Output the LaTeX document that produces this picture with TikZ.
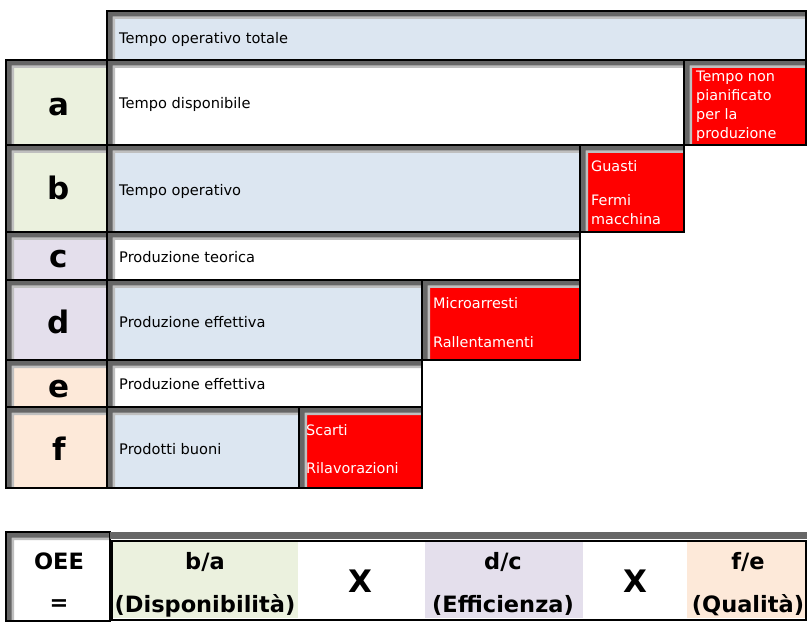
\documentclass[tikz,border=0pt]{standalone}
\usepackage{fontspec}
\setmainfont{DejaVu Sans}

\definecolor{azzurro}{HTML}{DCE6F1}
\definecolor{verde}{HTML}{EBF1DE}
\definecolor{lilla}{HTML}{E4DFEC}
\definecolor{pesca}{HTML}{FDE9D9}
\definecolor{rosso}{HTML}{FF0000}
\definecolor{scuro}{HTML}{666666}
\definecolor{chiaro}{HTML}{BFBFBF}

% cella con bordo "a rilievo": x1 y1 x2 y2 colore
\newcommand{\cella}[5]{%
	\fill[#5] (#1,#2) rectangle (#3,#4);
	\fill[chiaro] (#1,#2) rectangle (#3,{#2+8}) (#1,#2) rectangle ({#1+8},#4);
	\fill[scuro] (#1,#2) rectangle (#3,{#2+5.5}) (#1,#2) rectangle ({#1+5.5},#4);
	\draw[black, line width=2] (#1,#2) rectangle (#3,#4);
}

\tikzset{
	voce/.style={anchor=base west, inner sep=0pt, font=\fontsize{14.6}{17}\selectfont},
	perdita/.style={voce, text=white, align=left, font=\fontsize{14.4}{19}\selectfont},
	lettera/.style={anchor=base, inner sep=0pt, font=\fontsize{31}{31}\selectfont\bfseries},
	formula/.style={anchor=base, inner sep=0pt, font=\fontsize{22.5}{22.5}\selectfont\bfseries}
}

\begin{document}
\begin{tikzpicture}[x=1pt, y=-1pt]
	\useasboundingbox (0,0) rectangle (807,623);

	% tempo operativo totale
	\cella{107}{11}{806}{60}{azzurro}

	% colonna delle lettere
	\foreach \ya/\yb/\c in {60/145/verde, 145/232/verde, 232/280/lilla, 280/360/lilla, 360/407/pesca, 407/488/pesca}
		\cella{6}{\ya}{107}{\yb}{\c};

	% righe
	\cella{107}{60}{684}{145}{white}
	\cella{684}{60}{806}{145}{rosso}
	\cella{107}{145}{580}{232}{azzurro}
	\cella{580}{145}{684}{232}{rosso}
	\cella{107}{232}{580}{280}{white}
	\cella{107}{280}{422}{360}{azzurro}
	\cella{422}{280}{580}{360}{rosso}
	\cella{107}{360}{422}{407}{white}
	\cella{107}{407}{299}{488}{azzurro}
	\cella{299}{407}{422}{488}{rosso}

	\foreach \l/\yb in {a/116, b/200, c/268, d/333, e/397, f/460}
		\node[lettera] (\l) at (59,\yb) {\l};

	\node[voce] (totale) at (119,43.5) {Tempo operativo totale};
	\node[voce] (disponibile) at (119,108.5) {Tempo disponibile};
	\node[voce] (operativo) at (119,195.5) {Tempo operativo};
	\node[voce] (teorica) at (119,262.5) {Produzione teorica};
	\node[voce] (effettivaD) at (119,327) {Produzione effettiva};
	\node[voce] (effettivaE) at (119,389) {Produzione effettiva};
	\node[voce] (buoni) at (119,454) {Prodotti buoni};

	% testi rossi: la base e' quella dell'ultima riga
	\node[perdita] (nonpian) at (696,139) {Tempo non\\pianificato\\per la\\produzione};
	\node[perdita] (guasti) at (591,225) {Guasti\\[15pt]Fermi\\macchina};
	\node[perdita] (micro) at (433,347) {Microarresti\\[20pt]Rallentamenti};
	\node[perdita] (scarti) at (306,473) {Scarti\\[19pt]Rilavorazioni};

	% formula OEE
	\cella{6}{532}{110}{621}{white}
	\fill[scuro] (110,532) rectangle (807,539);
	\fill[verde] (113,542) rectangle (298,618);
	\fill[lilla] (425,542) rectangle (583,618);
	\fill[pesca] (687,542) rectangle (805,618);
	\draw[black, line width=2] (112,541) rectangle (806,620);

	\node[formula] (oee) at (59,569) {OEE};
	\node[formula] (uguale) at (59,610) {=};
	\node[formula] (ba) at (205,569) {b/a};
	\node[formula] (disp) at (205,612) {(Disponibilità)};
	\node[lettera] (perA) at (360,592) {X};
	\node[formula] (dc) at (503,569) {d/c};
	\node[formula] (effic) at (503,612) {(Efficienza)};
	\node[lettera] (perB) at (635,592) {X};
	\node[formula] (fe) at (748,569) {f/e};
	\node[formula] (qual) at (748,612) {(Qualità)};
\end{tikzpicture}
\end{document}
